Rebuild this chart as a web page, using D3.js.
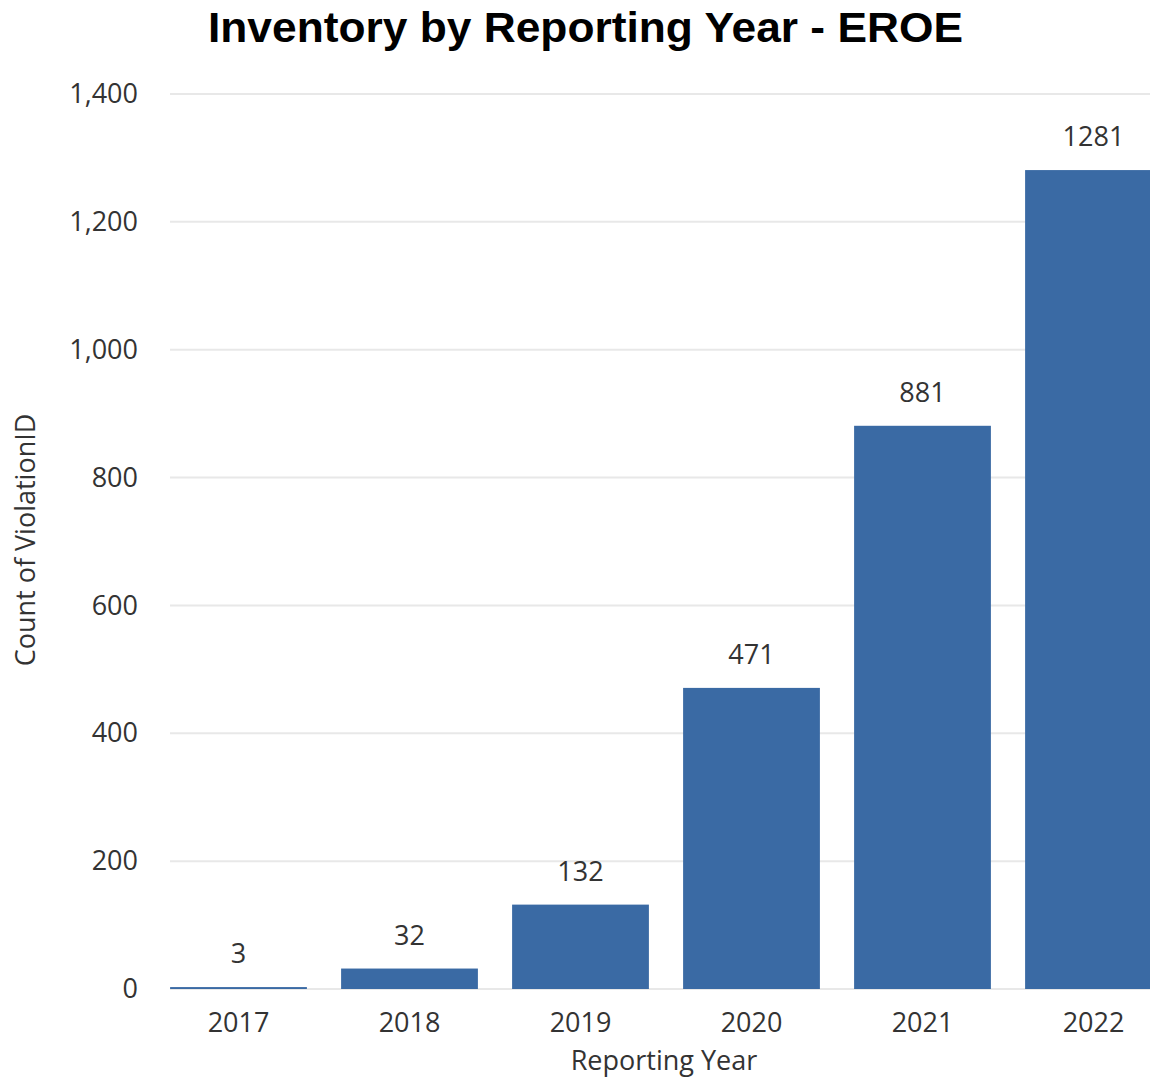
<!DOCTYPE html>
<html><head><meta charset="utf-8">
<script src="https://cdn.jsdelivr.net/npm/d3@7"></script>
<style>body{margin:0;background:#fff}</style>
</head><body>
<svg id="c" width="1150" height="1080"></svg>
<script>
const years = ["2017","2018","2019","2020","2021","2022"];
const counts = [3, 32, 132, 471, 881, 1281];
const yTicks = [0, 200, 400, 600, 800, 1000, 1200, 1400];
const titleText = "Inventory by Reporting Year - EROE";
const xTitle = "Reporting Year";
const yTitle = "Count of ViolationID";

const svg = d3.select("#c");
const font = "'Open Sans', 'Segoe UI', sans-serif";
const fs = 27;
const x = d3.scaleBand().domain(years).range([153, 1179]).paddingInner(0.2).paddingOuter(0.1);
const y = d3.scaleLinear().domain([0, 1400]).range([989, 94]);

// gridlines
svg.append("g").selectAll("line").data(yTicks).join("line")
  .attr("x1", 170).attr("x2", 1150)
  .attr("y1", d => y(d)).attr("y2", d => y(d))
  .attr("stroke", "#e8e8e8").attr("stroke-width", 2);

// y axis labels
const yAxis = svg.append("g").attr("transform", "translate(138,0)")
  .call(d3.axisLeft(y).tickValues(yTicks).tickFormat(d3.format(",")).tickSize(0).tickPadding(0));
yAxis.select(".domain").remove();
yAxis.selectAll("text").attr("font-family", font).attr("font-size", fs).attr("fill", "#333");

// x axis labels
const xAxis = svg.append("g").attr("transform", "translate(0,1007)")
  .call(d3.axisBottom(x).tickSize(0).tickPadding(6));
xAxis.select(".domain").remove();
xAxis.selectAll("text").attr("font-family", font).attr("font-size", fs).attr("fill", "#333");

// bars
svg.append("g").selectAll("rect").data(counts).join("rect")
  .attr("x", (d,i) => x(years[i])).attr("width", x.bandwidth())
  .attr("y", d => y(d)).attr("height", d => y(0) - y(d))
  .attr("fill", "#3a6aa4");

// value labels
svg.append("g").selectAll("text").data(counts).join("text")
  .attr("x", (d,i) => x(years[i]) + x.bandwidth()/2)
  .attr("y", d => y(d) - 24)
  .attr("text-anchor", "middle")
  .attr("font-family", font).attr("font-size", fs).attr("fill", "#333")
  .text(d => d);

// titles
svg.append("text").attr("x", 208).attr("y", 42)
  .attr("textLength", 755).attr("lengthAdjust", "spacingAndGlyphs")
  .attr("font-family", "'Liberation Sans', Arial, sans-serif").attr("font-weight", "bold")
  .attr("font-size", 42).attr("fill", "#000").text(titleText);

svg.append("text").attr("x", 664).attr("y", 1070).attr("text-anchor", "middle")
  .attr("font-family", font).attr("font-size", fs).attr("fill", "#333").text(xTitle);

svg.append("text").attr("transform", "translate(35,540) rotate(-90)").attr("text-anchor", "middle")
  .attr("font-family", font).attr("font-size", fs).attr("fill", "#333").text(yTitle);
</script>
</body></html>
